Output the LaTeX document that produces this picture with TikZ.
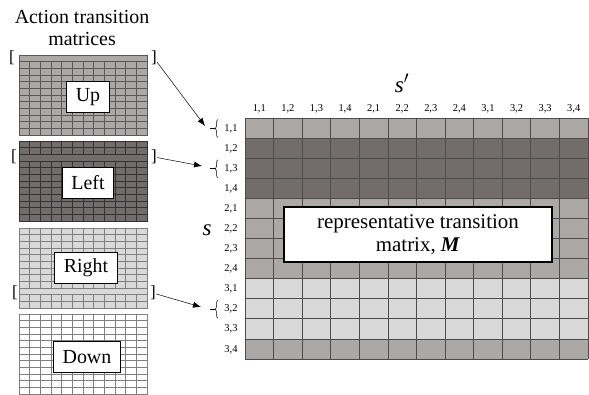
\documentclass[tikz,border=0pt]{standalone}
\usepackage{fontspec}
\setmainfont{Liberation Serif}
\usepackage{tikz}
\usetikzlibrary{positioning,fit,arrows.meta,decorations.pathreplacing}
\usepackage{xcolor}
\definecolor{midgrey}{RGB}{172,168,166}
\definecolor{darkgrey}{RGB}{114,109,107}
\definecolor{lightgrey}{RGB}{217,217,217}

\begin{document}
\begin{tikzpicture}[x=1bp, y=-1bp,
        bigtext/.style={font=\fontsize{20}{22}\selectfont, inner sep=0pt},
        actlabel/.style={draw, fill=white, line width=1.2bp, font=\fontsize{20}{22}\selectfont, inner xsep=9bp, minimum height=31bp},
        idx/.style={font=\fontsize{10.5}{12}\selectfont, inner sep=0pt},
        bracket/.style={font=\fontsize{17}{20}\selectfont, inner sep=0pt}
    ]

    %styles
    \tikzstyle{cellline}=[line width=0.7bp]
    \tikzstyle{commu}=[-{Latex[length=8bp,width=6bp]}, line width=0.5bp]
    \tikzstyle{brc}=[decorate, decoration={brace, amplitude=3bp}, line width=0.5bp]

    \useasboundingbox (0,0) rectangle (589,394);

    %title
    \node[bigtext, align=center] (title) at (82,28) {Action transition\\matrices};

    %action matrices
    \foreach \nm/\ty/\fil/\ln/\hl in {up/55/midgrey/black!65/0, left/141/darkgrey/black!80/2, right/228/lightgrey/black!50/9, down/314/white/black!50/-1} {
        \fill[\fil] (19,\ty) rectangle ++(128,80);
        \foreach \i in {1,...,11} {
            \draw[cellline, \ln] (19+\i*10.667,\ty) -- ++(0,80);
            \draw[cellline, \ln] (19,\ty+\i*6.667) -- ++(128,0);
        }
        \ifnum\hl>-1
            \draw[cellline, \ln, fill=\fil] (19,\ty+\hl*6.667) rectangle ++(128,6.667);
        \fi
        \draw[cellline, \ln] (19,\ty) rectangle ++(128,80);
    }

    \node[actlabel] (up) at (88,97) {Up};
    \node[actlabel] (left) at (88,183) {Left};
    \node[actlabel] (right) at (86,268) {Right};
    \node[actlabel] (down) at (87,357) {Down};

    \node[bracket] (upL) at (12,58) {[};
    \node[bracket] (upR) at (154,58) {]};
    \node[bracket] (leftL) at (14,157) {[};
    \node[bracket] (leftR) at (154,157) {]};
    \node[bracket] (rightL) at (15,293) {[};
    \node[bracket] (rightR) at (153,293) {]};

    %representative matrix
    \foreach \r/\fil in {1/midgrey, 2/darkgrey, 3/darkgrey, 4/darkgrey, 5/midgrey, 6/midgrey, 7/midgrey, 8/midgrey, 9/lightgrey, 10/lightgrey, 11/lightgrey, 12/midgrey}
        \fill[\fil] (245,118+\r*20.083-20.083) rectangle ++(343,20.083);
    \foreach \i in {0,...,12} {
        \draw[cellline, black!70] (245+\i*28.583,118) -- ++(0,241);
        \draw[cellline, black!70] (245,118+\i*20.083) -- ++(343,0);
    }

    \foreach \a in {1,2,3}
        \foreach \b in {1,2,3,4} {
            \pgfmathtruncatemacro\k{(\a-1)*4+\b-1}
            \node[idx] (c\a\b) at (259.3+\k*28.583,109) {\a,\b};
            \node[idx] (r\a\b) at (231,128.5+\k*20.083) {\a,\b};
        }

    \node[font=\fontsize{23}{24}\selectfont, inner sep=0pt] (sp) at (402,83) {\textit{s}$'$};
    \node[font=\fontsize{23}{24}\selectfont, inner sep=0pt] (s) at (207,230) {\textit{s}};

    \node[draw, fill=white, line width=1.2bp, minimum width=268bp, minimum height=55bp,
        font=\fontsize{21}{23}\selectfont, align=center] (M) at (418,234.5)
        {representative transition\\matrix, \textbf{\textit{M}}};

    %braces
    \draw[brc] (218,137.5) -- (218,119.5);
    \draw[line width=0.5bp] (215,128.5) -- (210,128.5);
    \draw[brc] (218,177.7) -- (218,159.7);
    \draw[line width=0.5bp] (215,168.7) -- (210,168.7);
    \draw[brc] (218,318.3) -- (218,300.3);
    \draw[line width=0.5bp] (215,309.3) -- (210,309.3);

    \coordinate (t1) at (205,126);
    \coordinate (t2) at (202,166);
    \coordinate (t3) at (201,307);

    %arrows
    \draw[commu] (upR) -- (t1);
    \draw[commu] (leftR) -- (t2);
    \draw[commu] (rightR) -- (t3);

\end{tikzpicture}
\end{document}
